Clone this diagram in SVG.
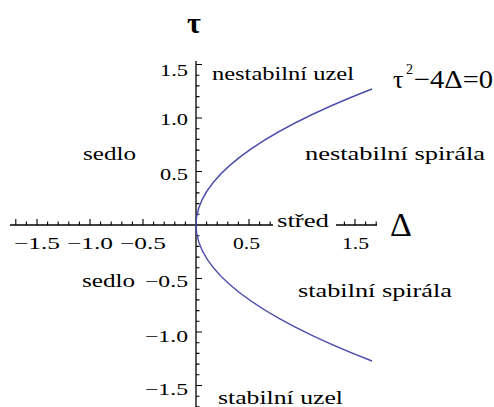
<svg xmlns="http://www.w3.org/2000/svg" width="494" height="407" viewBox="0 0 494 407">
<style>
.ax{stroke:#000;stroke-width:1.3;fill:none}
.tk{stroke:#000;stroke-width:1.1;fill:none}
.curve{stroke:#4b4bab;stroke-width:1.4;fill:none}
.lbl{font-family:"Liberation Serif","Times New Roman",serif;font-size:19px;fill:#000}
.num{font-family:"Liberation Serif","Times New Roman",serif;font-size:17px;fill:#000}
.big{font-family:"Liberation Serif","Times New Roman",serif;fill:#000}
</style>
<rect width="494" height="407" fill="#fff"/>
<g id="axes">
<line class="ax" x1="10" y1="225" x2="377" y2="225"/>
<line class="ax" x1="196" y1="61" x2="196" y2="407"/>
<path class="tk" d="M15.8 225v-6M26.4 225v-3.5M37 225v-6M47.6 225v-3.5M58.2 225v-3.5M68.8 225v-3.5M79.4 225v-3.5M90 225v-6M100.6 225v-3.5M111.2 225v-3.5M121.8 225v-3.5M132.4 225v-3.5M143 225v-6M153.6 225v-3.5M164.2 225v-3.5M174.8 225v-3.5M185.4 225v-3.5M206.6 225v-3.5M217.2 225v-3.5M227.8 225v-3.5M238.4 225v-3.5M249 225v-6M259.6 225v-3.5M270.2 225v-3.5M280.8 225v-3.5M291.4 225v-3.5M302 225v-6M312.6 225v-3.5M323.2 225v-3.5M333.8 225v-3.5M344.4 225v-3.5M355 225v-6M365.6 225v-3.5M376.2 225v-3.5"/>
<path class="tk" d="M196 64.5h6M196 75.2h3.5M196 85.9h3.5M196 96.6h3.5M196 107.3h3.5M196 118h6M196 128.7h3.5M196 139.4h3.5M196 150.1h3.5M196 160.8h3.5M196 171.5h6M196 182.2h3.5M196 192.9h3.5M196 203.6h3.5M196 214.3h3.5M196 235.7h3.5M196 246.4h3.5M196 257.1h3.5M196 267.8h3.5M196 278.5h6M196 289.2h3.5M196 299.9h3.5M196 310.6h3.5M196 321.3h3.5M196 332h6M196 342.7h3.5M196 353.4h3.5M196 364.1h3.5M196 374.8h3.5M196 385.5h6M196 396.2h3.5M196 406.9h3.5"/>
</g>
<g id="curve">
<path class="curve" d="M372 89Q20 225 372 361"/>
</g>
<g id="tick-labels">
<text class="num" x="160" y="76" textLength="28" lengthAdjust="spacingAndGlyphs">1.5</text>
<text class="num" x="160" y="125" textLength="28" lengthAdjust="spacingAndGlyphs">1.0</text>
<text class="num" x="160" y="180" textLength="28" lengthAdjust="spacingAndGlyphs">0.5</text>
<text class="num" x="145" y="287" textLength="43" lengthAdjust="spacingAndGlyphs">−0.5</text>
<text class="num" x="145" y="342" textLength="43" lengthAdjust="spacingAndGlyphs">−1.0</text>
<text class="num" x="145" y="395" textLength="43" lengthAdjust="spacingAndGlyphs">−1.5</text>
<text class="num" x="14" y="249" textLength="46" lengthAdjust="spacingAndGlyphs">−1.5</text>
<text class="num" x="67" y="249" textLength="46" lengthAdjust="spacingAndGlyphs">−1.0</text>
<text class="num" x="120" y="249" textLength="46" lengthAdjust="spacingAndGlyphs">−0.5</text>
<text class="num" x="233" y="249" textLength="27" lengthAdjust="spacingAndGlyphs">0.5</text>
<text class="num" x="342" y="249" textLength="27" lengthAdjust="spacingAndGlyphs">1.5</text>
</g>
<g id="axis-labels">
<text class="big" x="194" y="33" text-anchor="middle" font-size="30" font-weight="bold">τ</text>
<text class="big" x="390" y="236" font-size="34">Δ</text>
</g>
<g id="stred">
<rect x="273" y="214" width="63" height="16" fill="#fff"/>
<text class="lbl" x="277" y="227" textLength="52" lengthAdjust="spacingAndGlyphs">střed</text>
</g>
<g id="nestabilni-uzel"><text class="lbl" x="212" y="80" textLength="142" lengthAdjust="spacingAndGlyphs">nestabilní uzel</text></g>
<g id="nestabilni-spirala"><text class="lbl" x="305" y="160" textLength="180" lengthAdjust="spacingAndGlyphs">nestabilní spirála</text></g>
<g id="sedlo-top"><text class="lbl" x="83" y="160" textLength="53" lengthAdjust="spacingAndGlyphs">sedlo</text></g>
<g id="sedlo-bottom"><text class="lbl" x="82" y="287" textLength="53" lengthAdjust="spacingAndGlyphs">sedlo</text></g>
<g id="stabilni-spirala"><text class="lbl" x="298" y="297" textLength="154" lengthAdjust="spacingAndGlyphs">stabilní spirála</text></g>
<g id="stabilni-uzel"><text class="lbl" x="218" y="404" textLength="125" lengthAdjust="spacingAndGlyphs">stabilní uzel</text></g>
<g id="equation">
<text class="big" x="393" y="88" font-size="26">τ</text>
<text class="big" x="406" y="74" font-size="14">2</text>
<text class="big" x="414" y="88" font-size="26" textLength="79" lengthAdjust="spacingAndGlyphs">−4Δ=0</text>
</g>
</svg>
